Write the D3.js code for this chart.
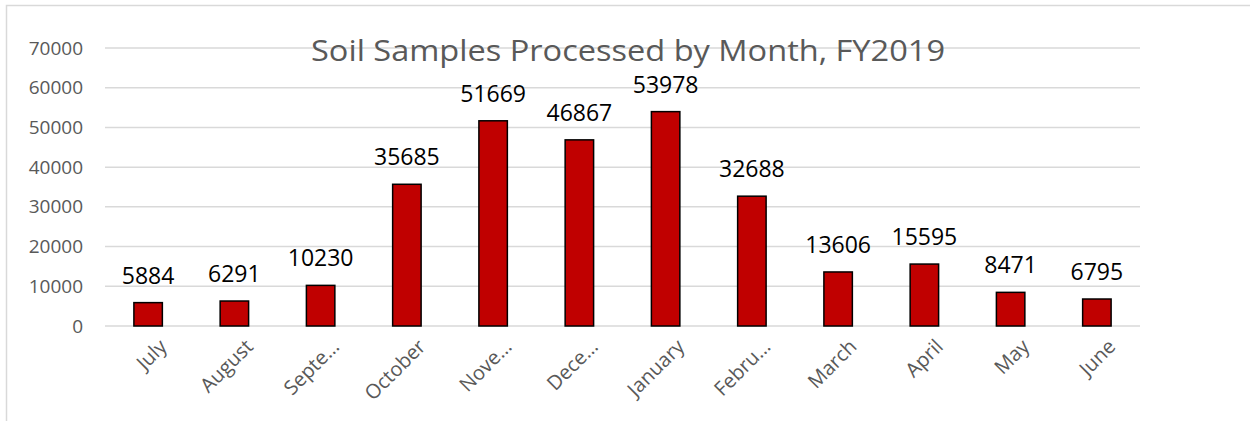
<!DOCTYPE html>
<html>
<head>
<meta charset="utf-8">
<script src="https://cdn.jsdelivr.net/npm/d3@7"></script>
<style>
  body { margin: 0; background: #fff; }
  text { font-family: "Open Sans", "Noto Sans", sans-serif; }
</style>
</head>
<body>
<div class="chart"></div>
<script>
var months = ["July", "August", "Septe…", "October", "Nove…", "Dece…", "January", "Febru…", "March", "April", "May", "June"];
var samples = [5884, 6291, 10230, 35685, 51669, 46867, 53978, 32688, 13606, 15595, 8471, 6795];
var yTicks = [0, 10000, 20000, 30000, 40000, 50000, 60000, 70000];

var svgWidth = 1250;
var svgHeight = 421;

var margin = { top: 48, right: 110, bottom: 95, left: 105 };
var width = svgWidth - margin.left - margin.right;
var height = svgHeight - margin.top - margin.bottom;

var svg = d3.select(".chart")
  .append("svg")
  .attr("width", svgWidth)
  .attr("height", svgHeight);

// outer frame (top and left edges visible)
svg.append("path")
  .attr("d", "M6.5,421 V5.5 H1250")
  .attr("fill", "none")
  .attr("stroke", "#d9d9d9")
  .attr("stroke-width", 1.5);

var chartGroup = svg.append("g")
  .attr("transform", `translate(${margin.left}, ${margin.top})`);

var xScale = d3.scaleBand()
  .domain(months)
  .range([0, width])
  .paddingInner(0.67)
  .paddingOuter(0.335);

var yScale = d3.scaleLinear()
  .domain([0, 70000])
  .range([height, 0]);

// gridlines
chartGroup.append("g")
  .selectAll("line")
  .data(yTicks)
  .enter()
  .append("line")
  .attr("x1", 0)
  .attr("x2", width)
  .attr("y1", d => yScale(d))
  .attr("y2", d => yScale(d))
  .attr("stroke", "#d9d9d9")
  .attr("stroke-width", 1.5);

// y axis labels
var leftAxis = d3.axisLeft(yScale)
  .tickValues(yTicks)
  .tickFormat(d3.format("d"))
  .tickSize(0)
  .tickPadding(22);
chartGroup.append("g")
  .call(leftAxis)
  .call(g => g.select(".domain").remove())
  .selectAll("text")
  .attr("fill", "#595959")
  .attr("font-family", "'Open Sans', sans-serif")
  .attr("font-size", "19px");

// title
svg.append("text")
  .attr("x", 628)
  .attr("y", 61)
  .attr("text-anchor", "middle")
  .attr("fill", "#595959")
  .attr("font-size", "30px")
  .attr("textLength", 634)
  .attr("lengthAdjust", "spacingAndGlyphs")
  .text("Soil Samples Processed by Month, FY2019");

// bars
chartGroup.selectAll("rect")
  .data(samples)
  .enter()
  .append("rect")
  .attr("x", (d, i) => xScale(months[i]))
  .attr("y", d => yScale(d))
  .attr("width", xScale.bandwidth())
  .attr("height", d => height - yScale(d))
  .attr("fill", "#c00000")
  .attr("stroke", "#000")
  .attr("stroke-width", 1.5);

// value labels
chartGroup.selectAll(".val")
  .data(samples)
  .enter()
  .append("text")
  .classed("val", true)
  .attr("x", (d, i) => xScale(months[i]) + xScale.bandwidth() / 2)
  .attr("y", d => yScale(d) - 19)
  .attr("text-anchor", "middle")
  .attr("fill", "#000")
  .attr("font-size", "23px")
  .text(d => d);

// x axis labels, rotated
chartGroup.selectAll(".xlab")
  .data(months)
  .enter()
  .append("text")
  .classed("xlab", true)
  .attr("transform", d => `translate(${xScale(d) + xScale.bandwidth() / 2 + 10}, ${height + 12}) rotate(-45)`)
  .attr("text-anchor", "end")
  .attr("dy", "0.7em")
  .attr("fill", "#595959")
  .attr("font-size", "20px")
  .text(d => d);
</script>
</body>
</html>
